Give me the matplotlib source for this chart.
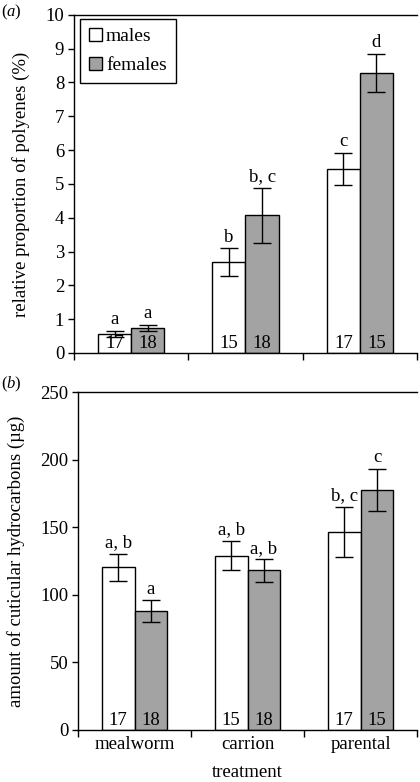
import numpy as np
import matplotlib.pyplot as plt
from matplotlib.transforms import blended_transform_factory

plt.rcParams["font.family"] = ["Liberation Serif", "DejaVu Serif"]
plt.rcParams["font.size"] = 11
plt.rcParams["mathtext.fontset"] = "custom"
plt.rcParams["mathtext.rm"] = "Liberation Serif"
plt.rcParams["mathtext.it"] = "Liberation Serif:italic"

# %% DATA
treatments = ["mealworm", "carrion", "parental"]
n_males = [17, 15, 17]
n_females = [18, 18, 15]

poly_males = [0.56, 2.69, 5.44]
poly_males_err = [0.10, 0.40, 0.47]
poly_females = [0.74, 4.07, 8.28]
poly_females_err = [0.10, 0.82, 0.56]
poly_letters_m = ["a", "b", "c"]
poly_letters_f = ["a", "b, c", "d"]

chc_males = [120.2, 129.0, 146.6]
chc_males_err = [10.0, 10.7, 18.4]
chc_females = [87.9, 118.0, 177.7]
chc_females_err = [8.0, 8.2, 15.7]
chc_letters_m = ["a, b", "a, b", "b, c"]
chc_letters_f = ["a", "a, b", "c"]

GREY = "#a3a3a3"
W = 0.29
FS = 13.5


def panel(ax, males, merr, females, ferr, lm, lf, ymax, ystep, ylabel, show_xlabels):
    x = np.arange(len(treatments)) + 0.5
    ekw = dict(ecolor="black", elinewidth=1, capsize=6.5, capthick=1)
    ax.bar(x - W / 2, males, W, yerr=merr, color="white", edgecolor="black",
           linewidth=1, error_kw=ekw, label="males", zorder=2)
    ax.bar(x + W / 2, females, W, yerr=ferr, color=GREY, edgecolor="black",
           linewidth=1, error_kw=ekw, label="females", zorder=2)
    for xi, v, e, t in zip(x - W / 2, males, merr, lm):
        ax.annotate(t, (xi, v + e), xytext=(0, 2), textcoords="offset points",
                    ha="center", va="bottom", fontsize=FS)
    for xi, v, e, t in zip(x + W / 2, females, ferr, lf):
        ax.annotate(t, (xi, v + e), xytext=(0, 2), textcoords="offset points",
                    ha="center", va="bottom", fontsize=FS)
    tr = blended_transform_factory(ax.transData, ax.transAxes)
    for xi, n in zip(x - W / 2, n_males):
        ax.text(xi, 0.003, str(n), transform=tr, ha="center", va="bottom", fontsize=FS, zorder=3)
    for xi, n in zip(x + W / 2, n_females):
        ax.text(xi, 0.003, str(n), transform=tr, ha="center", va="bottom", fontsize=FS, zorder=3)
    ax.set_xlim(0, 3)
    ax.set_ylim(0, ymax)
    ax.set_yticks(np.arange(0, ymax + ystep / 2, ystep))
    ax.set_xticks([0, 1, 2, 3])
    ax.set_xticklabels([])
    ax.tick_params(axis="both", direction="out", length=5, width=1, labelsize=FS)
    ax.tick_params(axis="y", length=4, pad=3)
    if show_xlabels:
        ax.set_xticks(x, minor=True)
        ax.set_xticklabels(treatments, minor=True, fontsize=FS)
        ax.tick_params(axis="x", which="minor", length=0, pad=4)
    ax.set_ylabel(ylabel, fontsize=FS, labelpad=11)
    ax.spines["right"].set_visible(False)
    for s in ["left", "bottom", "top"]:
        ax.spines[s].set_linewidth(1)


fig = plt.figure(figsize=(4.2, 7.82), dpi=100)
ax1 = fig.add_axes([0.176, 0.5486, 0.817, 0.4325])
ax2 = fig.add_axes([0.186, 0.0665, 0.807, 0.4322])

panel(ax1, poly_males, poly_males_err, poly_females, poly_females_err,
      poly_letters_m, poly_letters_f, 10, 1, "relative proportion of polyenes (%)", False)
panel(ax2, chc_males, chc_males_err, chc_females, chc_females_err,
      chc_letters_m, chc_letters_f, 250, 50, "amount of cuticular hydrocarbons (µg)", True)
ax2.set_xlabel("treatment", fontsize=FS, labelpad=8)

leg = ax1.legend(loc="upper left", bbox_to_anchor=(0.017, 0.988), fontsize=FS + 0.5,
                 fancybox=False, framealpha=1, edgecolor="black", borderaxespad=0,
                 handlelength=0.7, handleheight=0.7, handletextpad=0.2,
                 labelspacing=0.6, borderpad=0.45)
leg.get_frame().set_linewidth(1)

fig.text(0.003, 0.984, "($a$)", fontsize=12, va="center")
fig.text(0.003, 0.508, "($b$)", fontsize=12, va="center")

fig.savefig("out.png", dpi=100)
